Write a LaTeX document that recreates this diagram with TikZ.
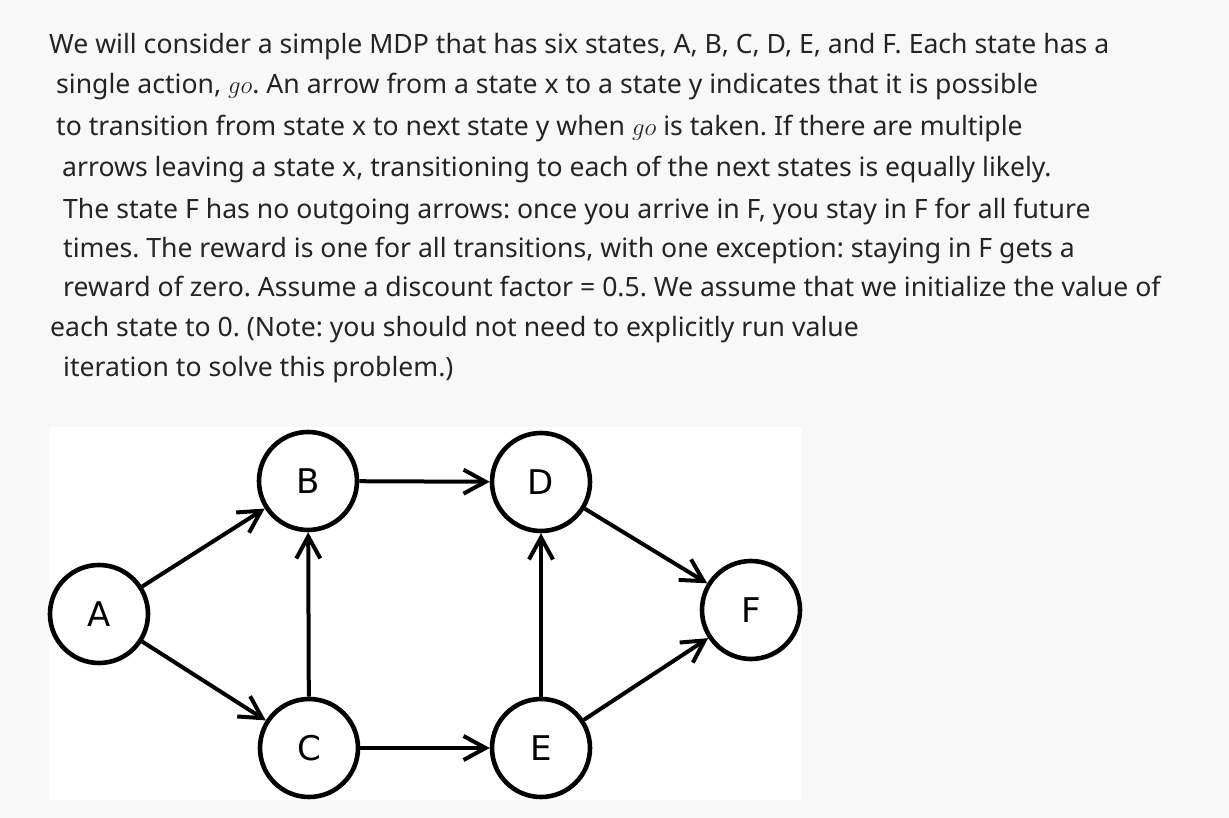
\documentclass[tikz,border=0pt]{standalone}
\usepackage{fontspec}
\setmainfont{Noto Sans}
\newfontfamily\nodefont{DejaVu Sans}
\usetikzlibrary{arrows.meta}
\definecolor{pagebg}{RGB}{248,248,248}
\definecolor{txt}{RGB}{36,36,40}
\frenchspacing
\tikzset{
  line/.style={anchor=base west, inner sep=0pt, text=txt, font=\fontsize{26.6}{26.6}\selectfont},
  state/.style={circle, draw=black, line width=4.6pt, minimum size=98pt, inner sep=0pt, fill=white, font=\nodefont\fontsize{34}{34}\selectfont},
  edge/.style={line width=4pt, -{Straight Barb[length=22pt,width=24pt]}}
}
\begin{document}
\begin{tikzpicture}[x=1pt,y=-1pt]
\fill[pagebg] (0,0) rectangle (1229,818);
\useasboundingbox (0,0) rectangle (1229,818);
\node[line] (l1) at (49,54) {We will consider a simple MDP that has six states, A, B, C, D, E, and F. Each state has a};
\node[line] (l2) at (56,94) {single action, $go$. An arrow from a state x to a state y indicates that it is possible};
\node[line] (l3) at (56,136) {to transition from state x to next state y when $go$ is taken. If there are multiple};
\node[line] (l4) at (62,177) {arrows leaving a state x, transitioning to each of the next states is equally likely.};
\node[line] (l5) at (63,219) {The state F has no outgoing arrows: once you arrive in F, you stay in F for all future};
\node[line] (l6) at (63,258) {times. The reward is one for all transitions, with one exception: staying in F gets a};
\node[line] (l7) at (63,297) {reward of zero. Assume a discount factor = 0.5. We assume that we initialize the value of};
\node[line] (l8) at (50,337) {each state to 0. (Note: you should not need to explicitly run value};
\node[line] (l9) at (63,377) {iteration to solve this problem.)};
\fill[white] (49,427) rectangle (802,800);
\node[state] (A) at (99,614) {A};
\node[state] (B) at (308,481) {B};
\node[state] (C) at (309,748) {C};
\node[state] (D) at (541,482) {D};
\node[state] (E) at (541,748) {E};
\node[state] (F) at (751,610) {F};
\draw[edge] (A) -- (B);
\draw[edge] (A) -- (C);
\draw[edge] (C) -- (B);
\draw[edge] (B) -- (D);
\draw[edge] (C) -- (E);
\draw[edge] (E) -- (D);
\draw[edge] (D) -- (F);
\draw[edge] (E) -- (F);
\end{tikzpicture}
\end{document}
